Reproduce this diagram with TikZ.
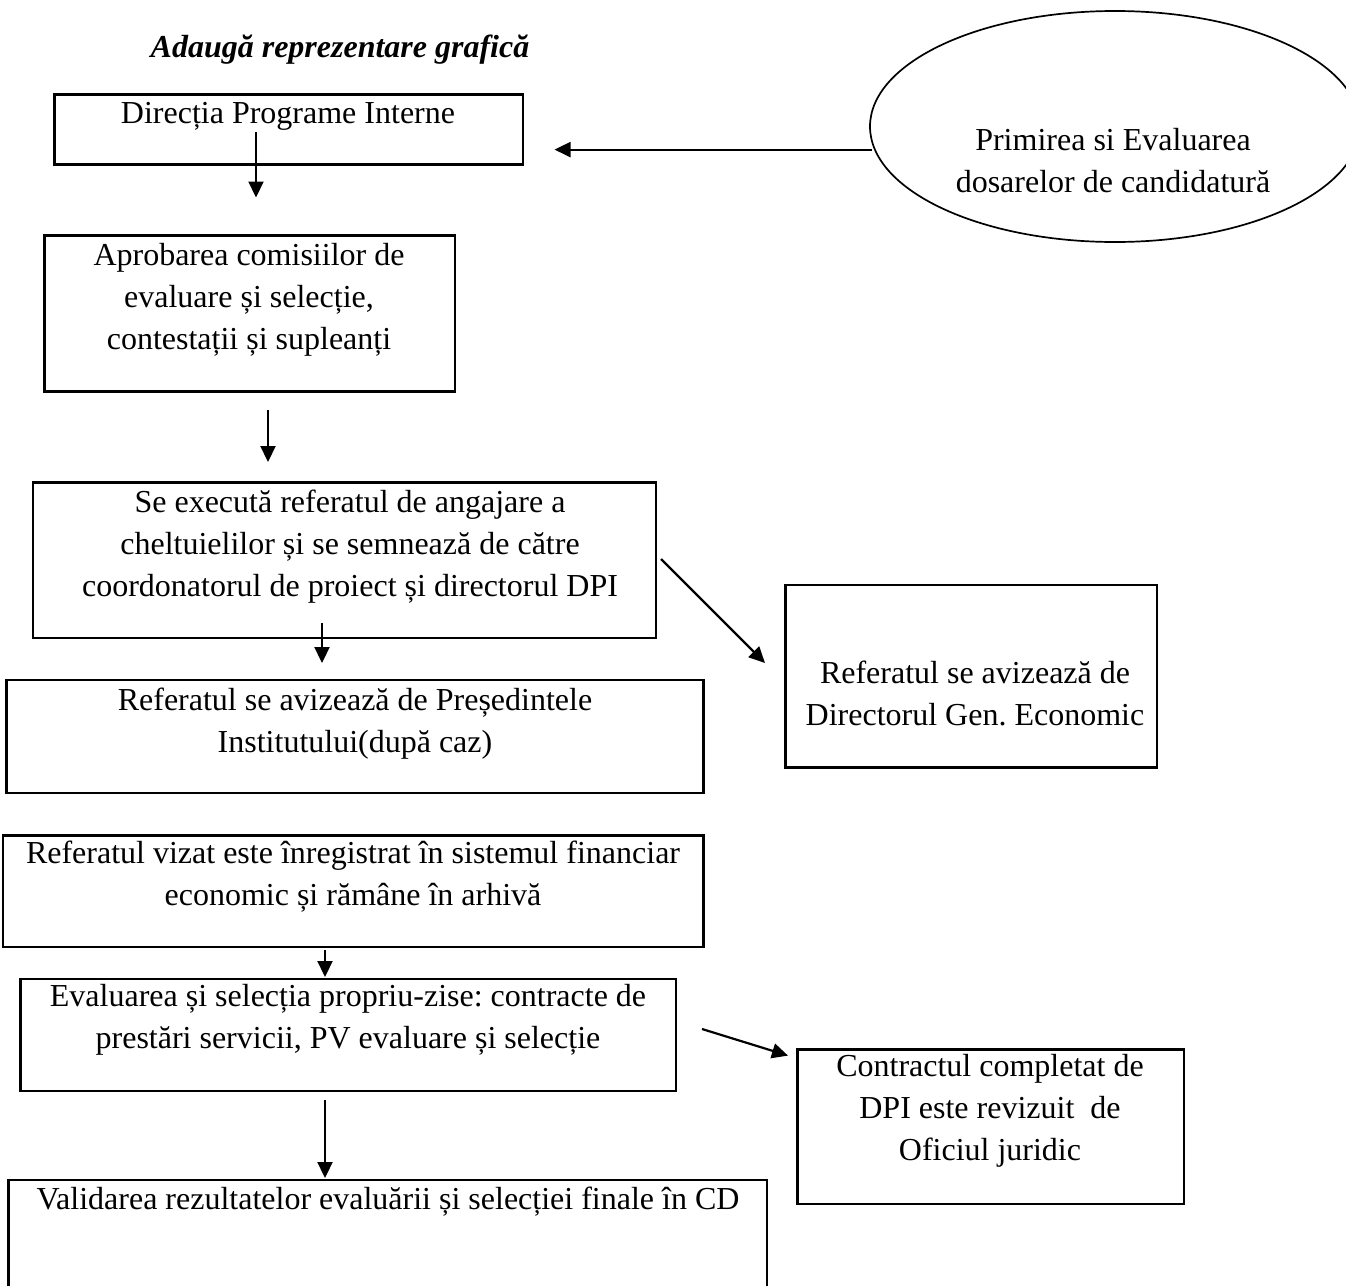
\documentclass[tikz,border=0pt]{standalone}
\usepackage{fontspec}
\setmainfont{Liberation Serif}
\usetikzlibrary{arrows.meta,shapes.geometric}
\frenchspacing
\begin{document}
\begin{tikzpicture}[x=1pt,y=-1pt,
  stepbox/.style={draw,line width=2.6pt,rectangle,inner sep=0pt},
  lbl/.style={font=\fontsize{32}{42}\selectfont,align=center,anchor=base,inner sep=0pt},
  arr/.style={line width=2.2pt,-{Triangle[length=16pt,width=15pt]}}]
\clip (0,0) rectangle (1346,1285);
\fill[white] (0,0) rectangle (1346,1285);
% title
\node[lbl,font=\fontsize{32}{42}\selectfont\bfseries\itshape] (title) at (340,57) {Adaugă reprezentare grafică};
% boxes
\node[stepbox,minimum width=468.5pt,minimum height=70pt] (b1) at (288.75,129.75) {};
\node[stepbox,minimum width=410.4pt,minimum height=155.7pt] (b2) at (249.8,313.5) {};
\node[stepbox,minimum width=623pt,minimum height=155.6pt] (b3) at (344.5,560.2) {};
\node[stepbox,minimum width=697pt,minimum height=113pt] (b4) at (355,736.5) {};
\node[stepbox,minimum width=371.5pt,minimum height=182.6pt] (b5) at (971.25,676.3) {};
\node[stepbox,minimum width=700.5pt,minimum height=111.4pt] (b6) at (353.25,891.3) {};
\node[stepbox,minimum width=655.4pt,minimum height=112pt] (b7) at (348.3,1035) {};
\node[stepbox,minimum width=386.5pt,minimum height=154.3pt] (b8) at (990.75,1126.65) {};
\node[stepbox,minimum width=758.4pt,minimum height=120pt] (b9) at (387.8,1240) {};
\node[draw,ellipse,line width=1.7pt,minimum width=490pt,minimum height=231pt,inner sep=0pt] (ell) at (1115,126.5) {};
% texts (anchor base = baseline of the last line)
\node[lbl] (t1) at (288,123) {Direcția Programe Interne};
\node[lbl] (te) at (1113,192) {Primirea si Evaluarea\\dosarelor de candidatură};
\node[lbl] (t2) at (249,349.2) {Aprobarea comisiilor de\\evaluare și selecție,\\contestații și supleanți};
\node[lbl] (t3) at (350,596) {Se execută referatul de angajare a\\cheltuielilor și se semnează de către\\coordonatorul de proiect și directorul DPI};
\node[lbl] (t4) at (355,752) {Referatul se avizează de Președintele\\Institutului(după caz)};
\node[lbl] (t5) at (975,725.6) {Referatul se avizează de\\Directorul Gen. Economic};
\node[lbl] (t6) at (353,905) {Referatul vizat este înregistrat în sistemul financiar\\economic și rămâne în arhivă};
\node[lbl] (t7) at (348,1048.7) {Evaluarea și selecția propriu-zise: contracte de\\prestări servicii, PV evaluare și selecție};
\node[lbl] (t8) at (990,1160.6) {Contractul completat de\\DPI este revizuit~ de\\Oficiul juridic};
\node[lbl] (t9) at (388,1209) {Validarea rezultatelor evaluării și selecției finale în CD};
% arrow end points
\coordinate (a1s) at (256,132);   \coordinate (a1e) at (256,197.5);
\coordinate (aEs) at (872,149.6); \coordinate (aEe) at (554.5,149.6);
\coordinate (a2s) at (268,410);   \coordinate (a2e) at (268,462);
\coordinate (a3s) at (322,623);   \coordinate (a3e) at (322,663);
\coordinate (d1s) at (661,559);   \coordinate (d1e) at (765,663);
\coordinate (a4s) at (325,949.5); \coordinate (a4e) at (325,977);
\coordinate (d2s) at (702,1029);  \coordinate (d2e) at (788,1055.6);
\coordinate (a5s) at (325,1100);  \coordinate (a5e) at (325,1178);
\draw[arr] (a1s) -- (a1e);
\draw[arr] (aEs) -- (aEe);
\draw[arr] (a2s) -- (a2e);
\draw[arr] (a3s) -- (a3e);
\draw[arr] (d1s) -- (d1e);
\draw[arr] (a4s) -- (a4e);
\draw[arr] (d2s) -- (d2e);
\draw[arr] (a5s) -- (a5e);
\end{tikzpicture}
\end{document}
